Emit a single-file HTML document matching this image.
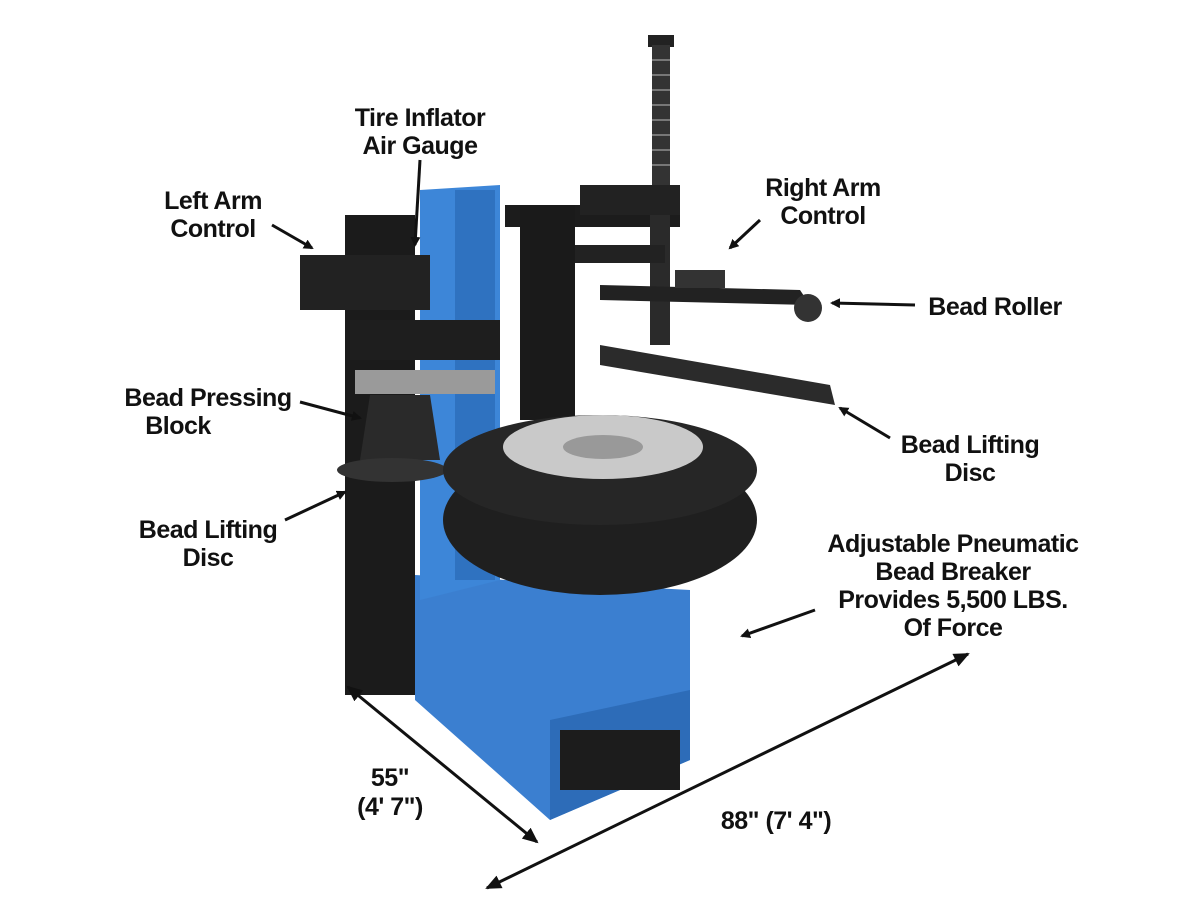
<!DOCTYPE html>
<html><head><meta charset="utf-8"><style>
html,body{margin:0;padding:0;background:#fff;}
svg{display:block}
text{font-family:"Liberation Sans",sans-serif;font-weight:bold;font-size:25px;fill:#111;text-anchor:middle;letter-spacing:-0.5px}
</style></head><body>
<svg width="1200" height="900" viewBox="0 0 1200 900" xmlns="http://www.w3.org/2000/svg">
<defs>
<marker id="ah" markerWidth="10" markerHeight="10" refX="8" refY="5" orient="auto" markerUnits="userSpaceOnUse"><path d="M0,0 L10,5 L0,10 z" fill="#111"/></marker>
<marker id="as" markerWidth="16" markerHeight="14" refX="14" refY="7" orient="auto-start-reverse" markerUnits="userSpaceOnUse"><path d="M16,7 L0,0 L0,14 z" fill="#111"/></marker>
</defs>
<rect width="1200" height="900" fill="#fff"/>
<rect x="648" y="35" width="26" height="12" fill="#222"/>
<rect x="652" y="45" width="18" height="145" fill="#333"/>
<g stroke="#777" stroke-width="2">
<line x1="652" y1="60" x2="670" y2="60"/><line x1="652" y1="75" x2="670" y2="75"/><line x1="652" y1="90" x2="670" y2="90"/><line x1="652" y1="105" x2="670" y2="105"/><line x1="652" y1="120" x2="670" y2="120"/><line x1="652" y1="135" x2="670" y2="135"/><line x1="652" y1="150" x2="670" y2="150"/><line x1="652" y1="165" x2="670" y2="165"/></g>
<polygon points="415,575 690,590 690,760 550,820 415,700" fill="#3b7fd0"/>
<polygon points="550,720 690,690 690,760 550,820" fill="#2d6cb8"/>
<rect x="560" y="730" width="120" height="60" fill="#1c1c1c"/>
<polygon points="420,190 500,185 500,580 420,600" fill="#3d86d8"/>
<rect x="455" y="190" width="40" height="390" fill="#2f72c0"/>
<rect x="345" y="215" width="70" height="480" fill="#1b1b1b"/>
<rect x="300" y="255" width="130" height="55" fill="#222"/>
<rect x="350" y="320" width="150" height="40" fill="#1e1e1e"/>
<rect x="355" y="370" width="140" height="24" fill="#9a9a9a"/>
<polygon points="370,395 430,395 440,460 360,460" fill="#2a2a2a"/>
<ellipse cx="392" cy="470" rx="55" ry="12" fill="#333"/>
<rect x="505" y="205" width="175" height="22" fill="#1c1c1c"/>
<rect x="520" y="205" width="55" height="215" fill="#1a1a1a"/>
<rect x="580" y="185" width="100" height="30" fill="#222"/>
<rect x="650" y="215" width="20" height="130" fill="#2a2a2a"/>
<rect x="575" y="245" width="90" height="18" fill="#222"/>
<polygon points="600,285 800,290 810,305 600,300" fill="#222"/>
<rect x="675" y="270" width="50" height="18" fill="#333"/>
<circle cx="808" cy="308" r="14" fill="#333"/>
<polygon points="600,345 830,385 835,405 600,365" fill="#2b2b2b"/>
<ellipse cx="600" cy="520" rx="157" ry="75" fill="#1f1f1f"/>
<ellipse cx="600" cy="470" rx="157" ry="55" fill="#262626"/>
<ellipse cx="603" cy="447" rx="100" ry="32" fill="#c9c9c9"/>
<ellipse cx="603" cy="447" rx="40" ry="12" fill="#999"/>
<text x="420" y="126">Tire Inflator</text><text x="420" y="154">Air Gauge</text>
<text x="213" y="209">Left Arm</text><text x="213" y="237">Control</text>
<text x="823" y="196">Right Arm</text><text x="823" y="224">Control</text>
<text x="995" y="315">Bead Roller</text>
<text x="208" y="406">Bead Pressing</text><text x="178" y="434">Block</text>
<text x="970" y="453">Bead Lifting</text><text x="970" y="481">Disc</text>
<text x="208" y="538">Bead Lifting</text><text x="208" y="566">Disc</text>
<text x="953" y="552">Adjustable Pneumatic</text><text x="953" y="580">Bead Breaker</text><text x="953" y="608">Provides 5,500 LBS.</text><text x="953" y="636">Of Force</text>
<text x="390" y="786">55"</text><text x="390" y="815">(4' 7")</text>
<text x="776" y="829">88" (7' 4")</text>
<g stroke="#111" stroke-width="3" fill="none">
<line x1="420" y1="160" x2="415" y2="245" marker-end="url(#ah)"/>
<line x1="272" y1="225" x2="312" y2="248" marker-end="url(#ah)"/>
<line x1="760" y1="220" x2="730" y2="248" marker-end="url(#ah)"/>
<line x1="915" y1="305" x2="832" y2="303" marker-end="url(#ah)"/>
<line x1="300" y1="402" x2="360" y2="418" marker-end="url(#ah)"/>
<line x1="890" y1="438" x2="840" y2="408" marker-end="url(#ah)"/>
<line x1="285" y1="520" x2="345" y2="492" marker-end="url(#ah)"/>
<line x1="815" y1="610" x2="742" y2="636" marker-end="url(#ah)"/>
<line x1="348" y1="687" x2="537" y2="842" marker-start="url(#as)" marker-end="url(#as)"/>
<line x1="487" y1="888" x2="968" y2="654" marker-start="url(#as)" marker-end="url(#as)"/>
</g>
</svg>
</body></html>
